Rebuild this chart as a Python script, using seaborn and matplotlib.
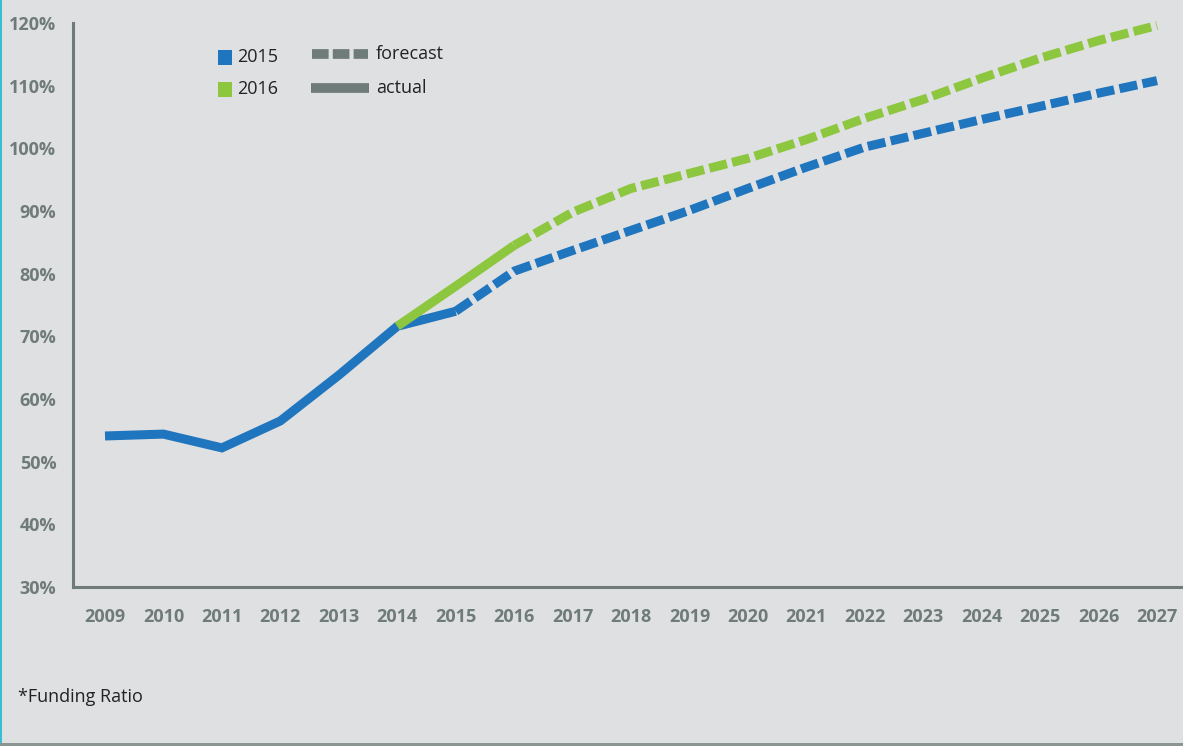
import matplotlib
matplotlib.use("Agg")
import matplotlib.pyplot as plt
import seaborn as sns
import pandas as pd
import numpy as np
from matplotlib.lines import Line2D
from matplotlib.patches import Rectangle

years = list(range(2009, 2028))
ratio_2015 = [54.1, 54.4, 52.2, 56.5, 63.8, 71.6, 74.0, 80.4, 83.7, 86.9, 90.1,
              93.6, 97.0, 100.2, 102.4, 104.6, 106.7, 108.8, 110.8]
ratio_2016 = [np.nan, np.nan, np.nan, np.nan, np.nan, 71.6, 78.0, 84.5, 89.8, 93.6,
              96.0, 98.4, 101.4, 104.8, 107.8, 111.2, 114.4, 117.2, 119.6]
last_actual = {"2015": 2015, "2016": 2016}
first_year = {"2015": 2009, "2016": 2014}
y_ticks = [30, 40, 50, 60, 70, 80, 90, 100, 110, 120]
series_colors = {"2015": "#1f75be", "2016": "#8dc63f"}

BG = "#dfe0e2"
GRAY = "#6f7b79"

sns.set_theme(style="white")
plt.rcParams["font.family"] = ["Open Sans", "DejaVu Sans"]

fig = plt.figure(figsize=(11.83, 7.46), dpi=100, facecolor=BG)
ax = fig.add_axes([73/1183, 1-587/746, 1-73/1183, (587-23)/746])
ax.set_facecolor(BG)

df = pd.DataFrame({"year": years, "2015": ratio_2015, "2016": ratio_2016})
long = df.melt(id_vars="year", var_name="series", value_name="ratio").dropna()

for name in ["2015", "2016"]:
    sub = long[long.series == name]
    act = sub[(sub.year >= first_year[name]) & (sub.year <= last_actual[name])]
    fc = sub[sub.year >= last_actual[name]]
    sns.lineplot(data=act, x="year", y="ratio", ax=ax, color=series_colors[name],
                 lw=6.5, solid_capstyle="butt", solid_joinstyle="miter", legend=False)
    sns.lineplot(data=fc, x="year", y="ratio", ax=ax, color=series_colors[name],
                 lw=6.5, legend=False)
    ln = ax.lines[-1]
    ln.set_dashes((2.0, 0.6))
    ln.set_dash_capstyle("butt")
    ln.set_clip_on(False)

ax.set_xlim(2009 - 32/58.44, 2027 + 26/58.44)
ax.set_ylim(30, 120)
ax.set_xticks(years)
ax.set_xticklabels([str(y) for y in years])
ax.set_yticks(y_ticks)
ax.set_yticklabels([f"{v}%" for v in y_ticks])
ax.set_xlabel("")
ax.set_ylabel("")

for s in ["top", "right"]:
    ax.spines[s].set_visible(False)
for s in ["left", "bottom"]:
    ax.spines[s].set_color(GRAY)
    ax.spines[s].set_linewidth(2.2)

ax.tick_params(axis="both", colors=GRAY, width=2, length=7, direction="out",
               labelsize=13)
ax.tick_params(axis="y", length=8, pad=4)
ax.tick_params(axis="x", pad=8)
for lab in ax.get_xticklabels() + ax.get_yticklabels():
    lab.set_fontweight("bold")
    lab.set_color(GRAY)

# legend
def fx(px):
    return px / 1183
def fy(py):
    return 1 - py / 746

fig.patches.append(Rectangle((fx(218), fy(65)), 14/1183, 15/746, transform=fig.transFigure,
                             facecolor=series_colors["2015"], edgecolor="none"))
fig.patches.append(Rectangle((fx(218), fy(97)), 14/1183, 15/746, transform=fig.transFigure,
                             facecolor=series_colors["2016"], edgecolor="none"))
fig.text(fx(237), fy(57), "2015", fontsize=13, color="#222222", va="center")
fig.text(fx(237), fy(89), "2016", fontsize=13, color="#222222", va="center")
fig.lines.append(Line2D([fx(312), fx(368)], [fy(54), fy(54)], transform=fig.transFigure,
                        color=GRAY, lw=7, dashes=(1.71, 0.43), dash_capstyle="butt"))
fig.lines.append(Line2D([fx(311), fx(369)], [fy(88), fy(88)], transform=fig.transFigure,
                        color=GRAY, lw=7, solid_capstyle="butt"))
fig.text(fx(376), fy(54), "forecast", fontsize=13, color="#222222", va="center")
fig.text(fx(376), fy(88), "actual", fontsize=13, color="#222222", va="center")

fig.text(fx(18), fy(697), "*Funding Ratio", fontsize=13, color="#222222", va="center")

# frame borders
fig.patches.append(Rectangle((0, 0), 2/1183, 1, transform=fig.transFigure,
                             facecolor="#39bdd0", edgecolor="none"))
fig.patches.append(Rectangle((0, 0), 1, 3/746, transform=fig.transFigure,
                             facecolor="#8a9593", edgecolor="none"))

fig.savefig("out.png", dpi=100, facecolor=BG)
